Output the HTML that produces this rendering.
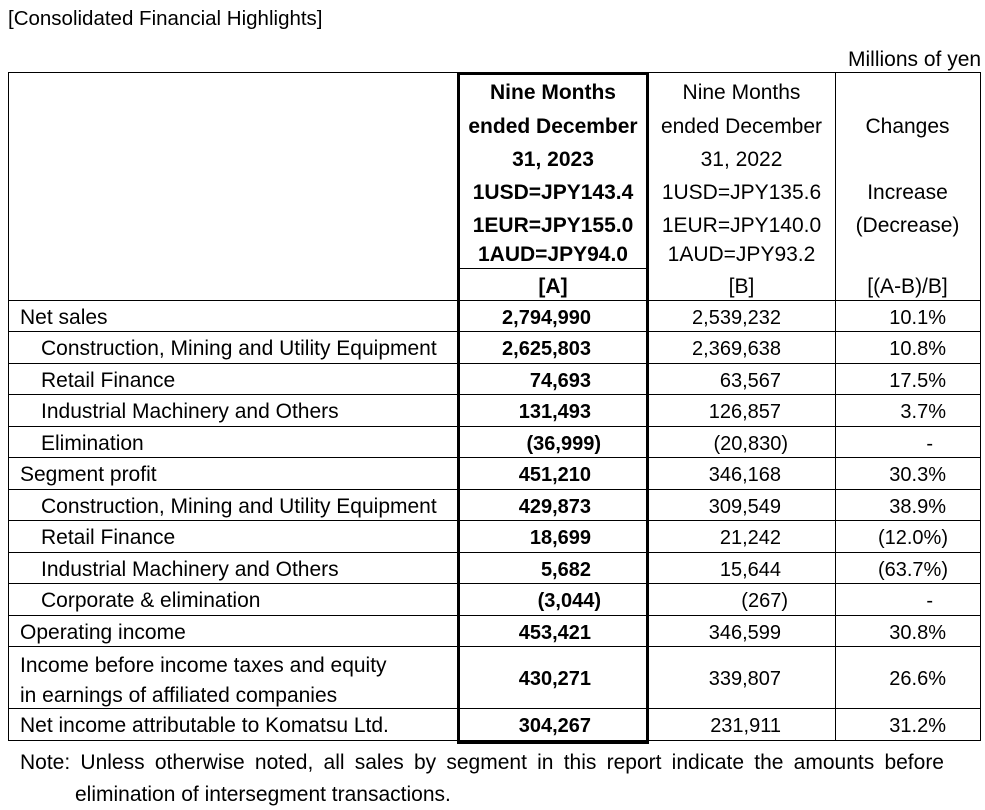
<!DOCTYPE html>
<html><head><meta charset="utf-8"><style>
body{margin:0;width:985px;height:810px;background:#fff;font-family:"Liberation Sans",Arial,sans-serif;color:#000;position:relative;overflow:hidden}
.t{position:absolute;font-size:21px;white-space:nowrap;line-height:24px}
.n{font-size:20px}
.b{font-weight:bold}
.h{position:absolute;height:1px;background:#000}
.v{position:absolute;width:1px;background:#000}
.c{text-align:center}
.r{text-align:right}
</style></head><body>
<div class="t" style="left:8px;top:7px;font-size:20.5px">[Consolidated Financial Highlights]</div>
<div class="t" style="left:848px;top:48px">Millions of yen</div>
<div class="h" style="left:8px;top:72px;width:973px"></div>
<div class="v" style="left:8px;top:72px;height:669px"></div>
<div class="v" style="left:980px;top:72px;height:669px"></div>
<div class="v" style="left:835px;top:72px;height:669px"></div>
<div class="h" style="left:458px;top:268px;width:190px"></div>
<div id="rows"></div>
<div style="position:absolute;left:457px;top:72px;width:186px;height:666px;border:3px solid #000"></div>

<div class="t b c" style="left:460px;width:186px;top:81px">Nine Months</div>
<div class="t b c" style="left:460px;width:186px;top:115px">ended December</div>
<div class="t b c" style="left:460px;width:186px;top:148px">31, 2023</div>
<div class="t b c" style="left:460px;width:186px;top:181px">1USD=JPY143.4</div>
<div class="t b c" style="left:460px;width:186px;top:214px">1EUR=JPY155.0</div>
<div class="t b c" style="left:460px;width:186px;top:243px">1AUD=JPY94.0</div>
<div class="t b c" style="left:460px;width:186px;top:275px">[A]</div>

<div class="t c" style="left:648px;width:187px;top:81px">Nine Months</div>
<div class="t c" style="left:648px;width:187px;top:115px">ended December</div>
<div class="t c" style="left:648px;width:187px;top:148px">31, 2022</div>
<div class="t c" style="left:648px;width:187px;top:181px">1USD=JPY135.6</div>
<div class="t c" style="left:648px;width:187px;top:214px">1EUR=JPY140.0</div>
<div class="t c" style="left:648px;width:187px;top:243px">1AUD=JPY93.2</div>
<div class="t c" style="left:648px;width:187px;top:275px">[B]</div>

<div class="t c" style="left:835px;width:145px;top:115px">Changes</div>
<div class="t c" style="left:835px;width:145px;top:181px">Increase</div>
<div class="t c" style="left:835px;width:145px;top:214px">(Decrease)</div>
<div class="t c" style="left:835px;width:145px;top:275px">[(A-B)/B]</div>

<div class="t" style="left:20px;top:751px;width:924px;text-align:justify;text-align-last:justify">Note: Unless otherwise noted, all sales by segment in this report indicate the amounts before</div>
<div class="t" style="left:75px;top:783px">elimination of intersegment transactions.</div>

<script>
var rows=[
["Net sales",0,"2,794,990","2,539,232","10.1%",300,331],
["Construction, Mining and Utility Equipment",1,"2,625,803","2,369,638","10.8%",331,363],
["Retail Finance",1,"74,693","63,567","17.5%",363,394],
["Industrial Machinery and Others",1,"131,493","126,857","3.7%",394,426],
["Elimination",1,"(36,999)","(20,830)","-",426,457],
["Segment profit",0,"451,210","346,168","30.3%",457,489],
["Construction, Mining and Utility Equipment",1,"429,873","309,549","38.9%",489,520],
["Retail Finance",1,"18,699","21,242","(12.0%)",520,552],
["Industrial Machinery and Others",1,"5,682","15,644","(63.7%)",552,583],
["Corporate & elimination",1,"(3,044)","(267)","-",583,615],
["Operating income",0,"453,421","346,599","30.8%",615,646],
["",0,"430,271","339,807","26.6%",646,708],
["Net income attributable to Komatsu Ltd.",0,"304,267","231,911","31.2%",708,740]];
var h="";
rows.forEach(function(r){
 var y=r[5],cy=(r[5]+r[6])/2-10;
 h+='<div class="h" style="left:8px;top:'+y+'px;width:973px"></div>';
 if(r[0])h+='<div class="t" style="left:'+(r[1]?41:20)+'px;top:'+cy+'px">'+r[0]+'</div>';
 var ar=r[2].charAt(0)=="("?601:591, br=r[3].charAt(0)=="("?788:781;
 h+='<div class="t n b r" style="left:460px;width:'+(ar-460)+'px;top:'+cy+'px">'+r[2]+'</div>';
 h+='<div class="t n r" style="left:648px;width:'+(br-648)+'px;top:'+cy+'px">'+r[3]+'</div>';
 var cr=r[4]=="-"?933:(r[4].charAt(0)=="("?948:946);
 h+='<div class="t n r" style="left:835px;width:'+(cr-835)+'px;top:'+cy+'px">'+r[4]+'</div>';
});
h+='<div class="h" style="left:8px;top:740px;width:973px"></div>';
h+='<div class="t" style="left:20px;top:654px">Income before income taxes and equity</div>';
h+='<div class="t" style="left:20px;top:684px">in earnings of affiliated companies</div>';
document.getElementById("rows").innerHTML=h;
</script>
</body></html>
